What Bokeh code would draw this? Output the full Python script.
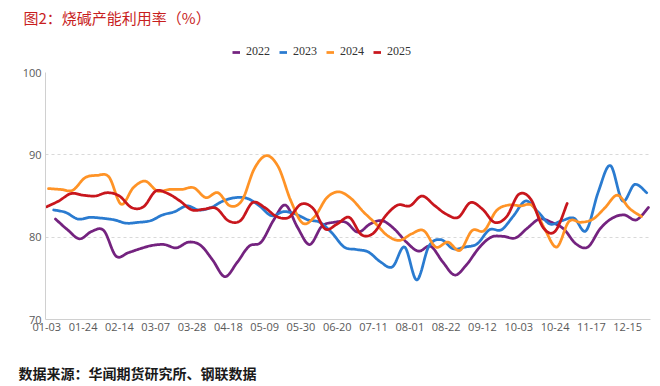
import numpy as np
from bokeh.plotting import figure
from bokeh.layouts import column
from bokeh.models import Range1d, FixedTicker, Legend, LegendItem, Label
from bokeh.embed import file_html
from bokeh.resources import INLINE

# ---------------- data ----------------
years = ["2022", "2023", "2024", "2025"]
colors = ["#74237f", "#2a7bd0", "#ff9326", "#c8161d"]
start_day = [8, 7, 4, 3]          # day of year of each year's first weekly reading
tick_labels = ["01-03", "01-24", "02-14", "03-07", "03-28", "04-18", "05-09",
               "05-30", "06-20", "07-11", "08-01", "08-22", "09-12", "10-03",
               "10-24", "11-17", "12-15"]
y_ticks = [70, 80, 90, 100]

u2022 = [82.2, 80.9, 79.8, 80.7, 80.8, 77.7, 78.1, 78.6, 79.0, 79.1,
         78.7, 79.4, 79.0, 77.2, 75.2, 76.9, 78.9, 79.4, 82.0, 83.9,
         81.2, 79.1, 81.3, 81.8, 81.8, 80.6, 81.6, 82.0, 81.0, 79.4,
         78.3, 78.9, 77.0, 75.4, 76.7, 78.7, 80.0, 80.1, 79.9, 81.1,
         82.2, 81.8, 81.0, 79.2, 78.8, 81.0, 82.3, 82.7, 82.1, 83.6]
u2023 = [83.3, 83.0, 82.2, 82.4, 82.3, 82.1, 81.7, 81.8, 82.0, 82.7,
         83.1, 83.8, 83.3, 83.6, 84.4, 84.8, 84.7, 83.8, 82.6, 83.1,
         82.8, 82.1, 81.8, 80.5, 78.8, 78.5, 78.2, 77.0, 76.4, 78.8,
         74.8, 78.9, 79.7, 78.6, 78.8, 79.2, 80.9, 80.9, 82.6, 84.4,
         83.1, 81.6, 82.0, 82.3, 80.8, 85.5, 88.7, 84.4, 86.4, 85.4]
u2024 = [85.9, 85.8, 85.7, 87.2, 87.5, 87.3, 84.0, 86.0, 86.8, 85.6,
         85.8, 85.8, 86.0, 84.8, 85.4, 83.8, 84.5, 88.3, 89.9, 88.5,
         84.5, 81.7, 82.5, 84.8, 85.5, 84.7, 83.1, 81.7, 80.2, 79.6,
         80.4, 80.8, 78.8, 79.4, 78.4, 80.8, 80.8, 83.2, 83.9, 83.8,
         83.8, 81.0, 78.8, 81.9, 81.8, 82.2, 83.6, 85.1, 83.5, 82.5]
u2025 = [83.7, 84.4, 85.3, 85.1, 85.0, 85.4, 85.0, 83.6, 83.7, 85.6,
         85.3, 84.4, 83.3, 83.4, 83.5, 82.0, 82.0, 84.2, 83.6, 82.5,
         82.4, 84.0, 83.5, 81.0, 81.6, 82.4, 80.3, 80.5, 82.6, 83.9,
         83.8, 85.0, 83.9, 82.8, 82.4, 84.2, 83.4, 81.8, 82.5, 85.2,
         84.6, 81.2, 80.7, 84.1]
series = [u2022, u2023, u2024, u2025]
title_text = "图2：烧碱产能利用率（%）"
source_text = "数据来源：华闻期货研究所、钢联数据"


def smooth(xs, ys, n=12):
    """Excel-style smoothed line (cubic Bezier, Catmull-Rom control points)."""
    P = np.column_stack([np.asarray(xs, float), np.asarray(ys, float)])
    E = np.vstack([P[0], P, P[-1]])
    t = np.linspace(0, 1, n + 1)[1:][:, None]
    out = [P[0]]
    for k in range(len(P) - 1):
        p0, p1, p2, p3 = E[k], E[k + 1], E[k + 2], E[k + 3]
        b1 = p1 + (p2 - p0) / 6.0
        b2 = p2 - (p3 - p1) / 6.0
        seg = (1 - t) ** 3 * p1 + 3 * (1 - t) ** 2 * t * b1 + 3 * (1 - t) * t ** 2 * b2 + t ** 3 * p2
        out.extend(seg)
    out = np.array(out)
    return out[:, 0], out[:, 1]


W = 660
H_HEAD, H_MAIN, H_FOOT = 62, 277, 47


def blank(h):
    f = figure(width=W, height=h, output_backend="svg", toolbar_location=None,
               x_range=Range1d(0, W), y_range=Range1d(0, h),
               x_axis_type=None, y_axis_type=None, min_border=0)
    f.outline_line_color = None
    f.border_fill_color = "white"
    f.background_fill_color = "white"
    f.frame_align = False
    return f


# ---------------- header: title + legend ----------------
head = blank(H_HEAD)
head.add_layout(Label(x=23, y=H_HEAD - 17, text=title_text,
                      text_font="Noto Sans CJK SC", text_font_size="15px",
                      text_color="#c81e1e", text_baseline="middle"))
# legend keys: styled like the series, no visible data of their own
key = [head.line(x=[np.nan], y=[np.nan], line_width=2.75, line_color=c) for c in colors]
legend = Legend(items=[LegendItem(label=y, renderers=[r]) for y, r in zip(years, key)],
                orientation="horizontal", location=(232, 3),
                glyph_width=8, glyph_height=10, label_height=14,
                label_standoff=6, spacing=9, padding=0, margin=0,
                label_text_font="Liberation Serif", label_text_font_size="12px",
                label_text_color="#333333",
                border_line_alpha=0, background_fill_alpha=0)
head.add_layout(legend)

# ---------------- main chart ----------------
p = figure(width=W, height=H_MAIN, output_backend="svg", toolbar_location=None,
           x_range=Range1d(2.25, 352.2), y_range=Range1d(70, 100),
           min_border_left=45, min_border_right=10, min_border_top=10,
           min_border_bottom=20)
p.frame_align = False
p.outline_line_color = None
p.background_fill_color = "white"
p.border_fill_color = "white"

for yr, col, d0, vals in zip(years, colors, start_day, series):
    xs = [d0 + 7 * i for i in range(len(vals))]
    sx, sy = smooth(xs, vals)
    p.line(sx, sy, line_width=2.75, line_color=col,
           line_join="round", line_cap="round")

tick_pos = [3 + 21 * k for k in range(len(tick_labels))]
p.xaxis.ticker = FixedTicker(ticks=tick_pos)
p.xaxis.major_label_overrides = {tp: lab for tp, lab in zip(tick_pos, tick_labels)}
p.yaxis.ticker = FixedTicker(ticks=y_ticks)
for ax in (p.xaxis, p.yaxis):
    ax.axis_line_color = "#d0d0d0"
    ax.axis_line_width = 1
    ax.major_tick_line_color = None
    ax.minor_tick_line_color = None
    ax.major_tick_out = 0
    ax.major_tick_in = 0
    ax.minor_tick_out = 0
    ax.major_label_text_color = "#595959"
    ax.major_label_text_font = "Open Sans"
    ax.major_label_text_font_size = "11px"
p.yaxis.major_label_standoff = 4
p.xaxis.major_label_standoff = 3

p.xgrid.visible = False
p.ygrid.ticker = FixedTicker(ticks=[80, 90])
p.ygrid.grid_line_color = "#d9d9d9"
p.ygrid.grid_line_dash = "3 3"

# ---------------- footer: source ----------------
foot = blank(H_FOOT)
foot.add_layout(Label(x=18, y=386 - 372, text=source_text,
                      text_font="Noto Sans CJK SC", text_font_size="14px",
                      text_font_style="bold", text_color="#1a1a1a",
                      text_baseline="middle"))

page = column(head, p, foot, spacing=0)
open("out.html", "w").write(file_html(page, INLINE))
